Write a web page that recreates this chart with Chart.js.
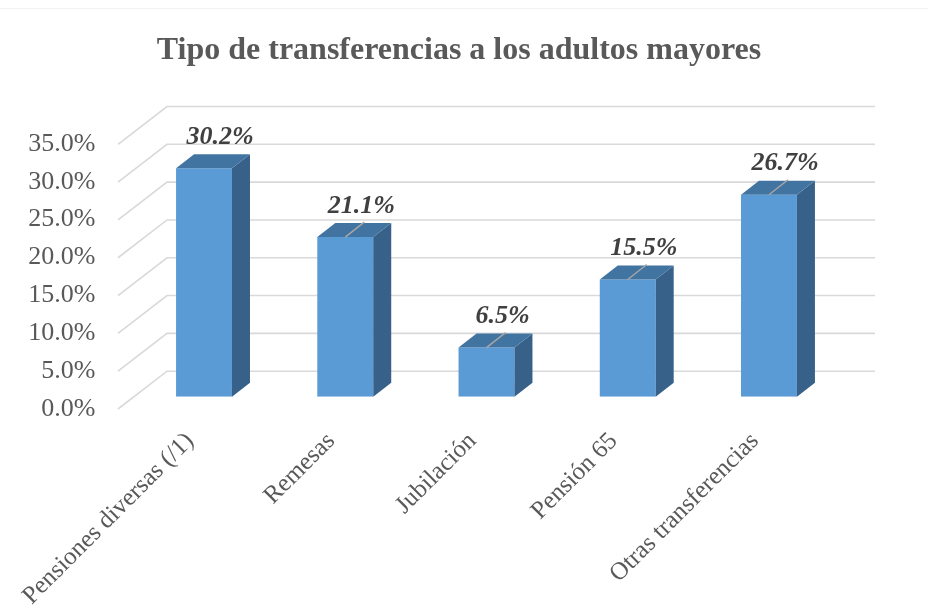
<!DOCTYPE html>
<html><head><meta charset="utf-8">
<script src="https://cdn.jsdelivr.net/npm/chart.js@4.4.1/dist/chart.umd.min.js"></script>
<style>html,body{margin:0;padding:0;background:#fff;}canvas{display:block}</style>
</head><body>
<canvas id="c" width="928" height="613"></canvas>
<script>
const categories = ["Pensiones diversas (/1)", "Remesas", "Jubilación", "Pensión 65", "Otras transferencias"];
const shares = [30.2, 21.1, 6.5, 15.5, 26.7];
const yTicks = [0, 5, 10, 15, 20, 25, 30, 35];
const chartTitle = "Tipo de transferencias a los adultos mayores";
const SERIF = '"Liberation Serif","Times New Roman",serif';

const threeD = {
  id: 'threeD',
  beforeDraw(chart) {
    const ctx = chart.ctx;
    ctx.save();
    ctx.strokeStyle = '#f2f2f2'; ctx.lineWidth = 1;
    ctx.beginPath(); ctx.moveTo(0, 8.5); ctx.lineTo(chart.width, 8.5); ctx.stroke();
    ctx.fillStyle = '#595959';
    ctx.font = 'bold 32px ' + SERIF;
    ctx.textAlign = 'center'; ctx.textBaseline = 'middle';
    ctx.fillText(chartTitle, 459, 51);
    ctx.restore();
  },
  beforeDatasetsDraw(chart) {
    const { ctx, chartArea: a, scales: { y } } = chart;
    ctx.save();
    ctx.strokeStyle = '#d9d9d9'; ctx.lineWidth = 1.6;
    y.ticks.forEach(t => {
      const p = y.getPixelForValue(t.value);
      ctx.beginPath();
      ctx.moveTo(a.left - 15.4, p + 12.3);
      ctx.lineTo(a.left + 33.6, p - 25.5);
      ctx.lineTo(a.right + 35.4, p - 25.5);
      ctx.stroke();
    });
    ctx.restore();
  },
  afterDatasetsDraw(chart) {
    const ctx = chart.ctx;
    const meta = chart.getDatasetMeta(0);
    const dx = 18, dy = -14;
    ctx.save();
    meta.data.forEach((bar, i) => {
      const w = bar.width, l = bar.x - w / 2, r = bar.x + w / 2, t = bar.y, b = bar.base;
      ctx.fillStyle = '#386189';
      ctx.beginPath(); ctx.moveTo(r, t); ctx.lineTo(r + dx, t + dy); ctx.lineTo(r + dx, b + dy); ctx.lineTo(r, b); ctx.closePath(); ctx.fill();
      ctx.fillStyle = '#4274A2';
      ctx.beginPath(); ctx.moveTo(l, t); ctx.lineTo(r, t); ctx.lineTo(r + dx, t + dy); ctx.lineTo(l + dx, t + dy); ctx.closePath(); ctx.fill();
    });
    meta.data.forEach((bar, i) => {
      const t = bar.y;
      if (i > 0) {
        ctx.strokeStyle = '#a6a6a6'; ctx.lineWidth = 1.5;
        ctx.beginPath(); ctx.moveTo(bar.x, t); ctx.lineTo(bar.x + 19, t - 15); ctx.stroke();
      }
      ctx.fillStyle = '#404040';
      ctx.font = 'italic bold 26px ' + SERIF;
      ctx.textAlign = 'center'; ctx.textBaseline = 'middle';
      ctx.fillText(shares[i].toFixed(1) + '%', bar.x + 16, t - 31);
    });
    ctx.restore();
  }
};

new Chart(document.getElementById('c'), {
  type: 'bar',
  data: {
    labels: categories,
    datasets: [{
      data: shares,
      backgroundColor: '#5B9BD5',
      borderWidth: 0,
      categoryPercentage: 1,
      barPercentage: 0.396
    }]
  },
  options: {
    responsive: false,
    animation: false,
    events: [],
    layout: { padding: { left: 0, right: 88.4, top: 132, bottom: 0 } },
    plugins: {
      legend: { display: false },
      tooltip: { enabled: false },
      title: { display: false }
    },
    scales: {
      x: {
        grid: { display: false, drawTicks: false },
        border: { display: false },
        ticks: {
          color: '#595959',
          font: { family: SERIF, size: 25 },
          minRotation: 45, maxRotation: 45,
          autoSkip: false,
          padding: 30,
          labelOffset: -14
        },
        afterFit: s => { s.height = 613 - 396.7; s.paddingLeft = 0; s.paddingRight = 0; }
      },
      y: {
        min: 0, max: 35,
        grid: { display: false, drawTicks: false },
        border: { display: false },
        afterBuildTicks: s => { s.ticks = yTicks.map(v => ({ value: v })); },
        ticks: {
          color: '#595959',
          font: { family: SERIF, size: 26 },
          padding: 38,
          labelOffset: 12,
          callback: v => Number(v).toFixed(1) + '%'
        },
        afterFit: s => { s.width = 133.4; s.paddingTop = 0; s.paddingBottom = 0; }
      }
    }
  },
  plugins: [threeD]
});
</script>
</body></html>
